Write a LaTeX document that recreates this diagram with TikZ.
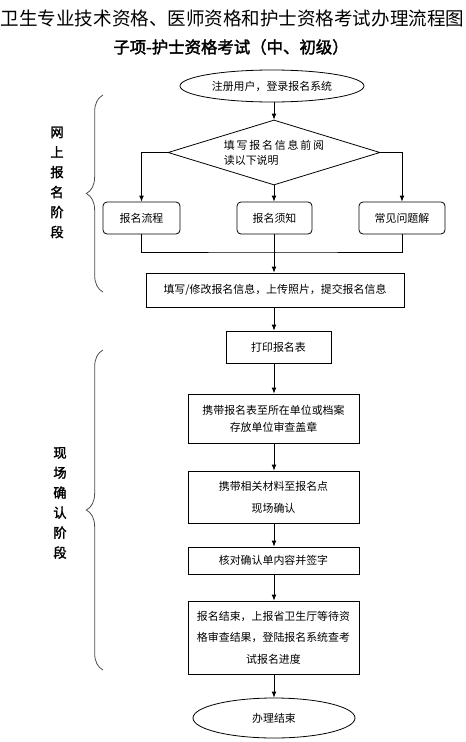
\documentclass[tikz,border=0pt]{standalone}
\usepackage{fontspec}
\setmainfont{Noto Sans CJK SC}[AutoFakeBold=2]
\usetikzlibrary{arrows.meta,shapes.geometric,decorations.pathreplacing}

\tikzset{
  >={Latex[length=4.5pt,width=3.6pt]},
  flowbox/.style={draw,line width=0.6pt,align=center,inner sep=0pt,font=\fontsize{8.2}{13}\selectfont},
  roundbox/.style={flowbox,rounded corners=3pt},
  oval/.style={flowbox,ellipse},
  stagebrace/.style={draw=black!70,line width=0.6pt,decorate,decoration={brace,amplitude=12.5pt}},
  stagetext/.style={align=center,font=\fontsize{10}{15}\selectfont\bfseries}
}

\begin{document}
\begin{tikzpicture}[x=0.75pt,y=-0.75pt]
\useasboundingbox (0,0) rectangle (465,742);

\node (T) at (232.5,18) {\fontsize{13.9}{16}\selectfont 卫生专业技术资格、医师资格和护士资格考试办理流程图};
\node (S) at (231,47) {\fontsize{12.3}{14}\selectfont\bfseries 子项-护士资格考试（中、初级）};

% online stage
\node[oval,minimum width=184*0.75pt,minimum height=32*0.75pt] (E1) at (272,86) {注册用户，登录报名系统};
\node[flowbox,diamond,aspect=3.26,minimum width=212*0.75pt,minimum height=65*0.75pt,align=left,font=\fontsize{8.2}{11.3}\selectfont] (D) at (274,152.5) {填\,写\,报\,名\,信\,息\,前\,阅\\读以下说明};
\node[roundbox,minimum width=77*0.75pt,minimum height=32*0.75pt] (B1) at (141.5,218) {报名流程};
\node[roundbox,minimum width=75*0.75pt,minimum height=32*0.75pt] (B2) at (274.5,218) {报名须知};
\node[roundbox,minimum width=86*0.75pt,minimum height=32*0.75pt] (B3) at (402,218) {常见问题解};
\coordinate (J) at (274,252);
\node[flowbox,minimum width=258*0.75pt,minimum height=34*0.75pt] (B4) at (275,290) {填写/修改报名信息，上传照片，提交报名信息};

% on-site stage
\node[flowbox,minimum width=105*0.75pt,minimum height=32*0.75pt] (B5) at (278.5,347) {打印报名表};
\node[flowbox,minimum width=171*0.75pt,minimum height=49*0.75pt] (B6) at (273.5,418.5) {携带报名表至所在单位或档案\\存放单位审查盖章};
\node[flowbox,minimum width=171*0.75pt,minimum height=52*0.75pt,font=\fontsize{8.2}{16.5}\selectfont] (B7) at (273.5,497) {携带相关材料至报名点\\现场确认};
\node[flowbox,minimum width=171*0.75pt,minimum height=27*0.75pt] (B8) at (273.5,560.5) {核对确认单内容并签字};
\node[flowbox,minimum width=171*0.75pt,minimum height=73*0.75pt,font=\fontsize{8.2}{16}\selectfont] (B9) at (273.5,637.5) {报名结束，上报省卫生厅等待资\\格审查结果，登陆报名系统查考\\试报名进度};
\node[oval,minimum width=162*0.75pt,minimum height=40*0.75pt] (E2) at (274,718) {办理结束};

\draw[line width=0.6pt,->] (E1.south -| D.north) -- (D.north);
\draw[line width=0.6pt,->] (D.west) -| (B1.north);
\draw[line width=0.6pt,->] (D.east) -| (B3.north);
\draw[line width=0.6pt,->] (D.south) -- (B2.north -| D.south);
\draw[line width=0.6pt] (B1.south) |- (J) -| (B3.south);
\draw[line width=0.6pt,->] (B2.south -| J) -- (B4.north -| J);
\draw[line width=0.6pt,->] (B4.south -| J) -- (B5.north -| J);
\draw[line width=0.6pt,->] (B5.south -| J) -- (B6.north -| J);
\draw[line width=0.6pt,->] (B6.south -| J) -- (B7.north -| J);
\draw[line width=0.6pt,->] (B7.south -| J) -- (B8.north -| J);
\draw[line width=0.6pt,->] (B8.south -| J) -- (B9.north -| J);
\draw[line width=0.6pt,->] (B9.south -| J) -- (E2.north);

% stage braces
\draw[stagebrace] (103,292) -- (103,95);
\draw[stagebrace] (103,670) -- (103,350);
\node[stagetext] (L1) at (57,182.5) {网\\上\\报\\名\\阶\\段};
\node[stagetext] (L2) at (60,503) {现\\场\\确\\认\\阶\\段};
\end{tikzpicture}
\end{document}
